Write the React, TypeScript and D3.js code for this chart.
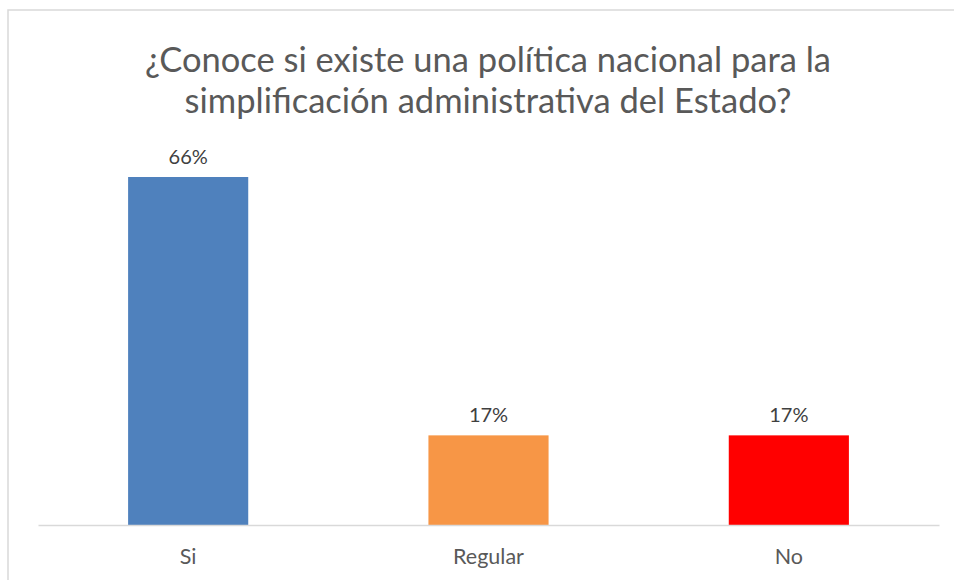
import React, { useEffect, useRef } from "react";
import * as d3 from "d3";

const categories = ["Si", "Regular", "No"];
const values = [66, 17, 17];
const colors = ["#4f81bd", "#f79646", "#ff0000"];
const titleLines = [
  "¿Conoce si existe una política nacional para la",
  "simplificación administrativa del Estado?",
];

const width = 954,
  height = 580;

const App = () => {
  const ref = useRef<SVGSVGElement | null>(null);

  useEffect(() => {
    const svg = d3.select(ref.current);
    svg.selectAll("*").remove();

    const font = "Lato, 'Open Sans', sans-serif";
    const textColor = "#595959";

    // chart frame
    svg
      .append("rect")
      .attr("x", 8)
      .attr("y", 10)
      .attr("width", 960)
      .attr("height", 600)
      .attr("fill", "#fff")
      .attr("stroke", "#d9d9d9")
      .attr("stroke-width", 1.5);

    const xScale = d3
      .scaleBand()
      .domain(categories)
      .range([38, 939])
      .paddingInner(0.6)
      .paddingOuter(0.3);

    const yScale = d3.scaleLinear().domain([0, 66]).range([525, 177]);

    // title
    svg
      .append("g")
      .selectAll("text")
      .data(titleLines)
      .enter()
      .append("text")
      .attr("x", 488)
      .attr("y", (d, i) => 72 + i * 41)
      .attr("text-anchor", "middle")
      .style("font-family", font)
      .style("font-size", "34.5px")
      .style("fill", textColor)
      .text((d) => d);

    // bars
    svg
      .append("g")
      .selectAll("rect")
      .data(values)
      .enter()
      .append("rect")
      .attr("x", (d, i) => xScale(categories[i]) as number)
      .attr("y", (d) => yScale(d))
      .attr("width", xScale.bandwidth())
      .attr("height", (d) => yScale(0) - yScale(d))
      .attr("fill", (d, i) => colors[i]);

    // value labels
    svg
      .append("g")
      .selectAll("text")
      .data(values)
      .enter()
      .append("text")
      .attr("x", (d, i) => (xScale(categories[i]) as number) + xScale.bandwidth() / 2)
      .attr("y", (d) => yScale(d) - 13)
      .attr("text-anchor", "middle")
      .style("font-family", font)
      .style("font-size", "20px")
      .style("fill", "#404040")
      .text((d) => d + "%");

    // x axis
    const xAxis = svg
      .append("g")
      .attr("transform", `translate(0, ${yScale(0)})`)
      .call(d3.axisBottom(xScale).tickSize(0).tickPadding(24));

    xAxis.select(".domain").attr("stroke", "#d9d9d9").attr("stroke-width", 1.5);
    xAxis
      .selectAll(".tick text")
      .style("font-family", font)
      .style("font-size", "21.5px")
      .style("fill", textColor);
  }, []);

  return (
    <svg
      ref={ref}
      width={width}
      height={height}
      style={{ position: "absolute", left: 0, top: 0, background: "#fff" }}
    ></svg>
  );
};

export default App;
